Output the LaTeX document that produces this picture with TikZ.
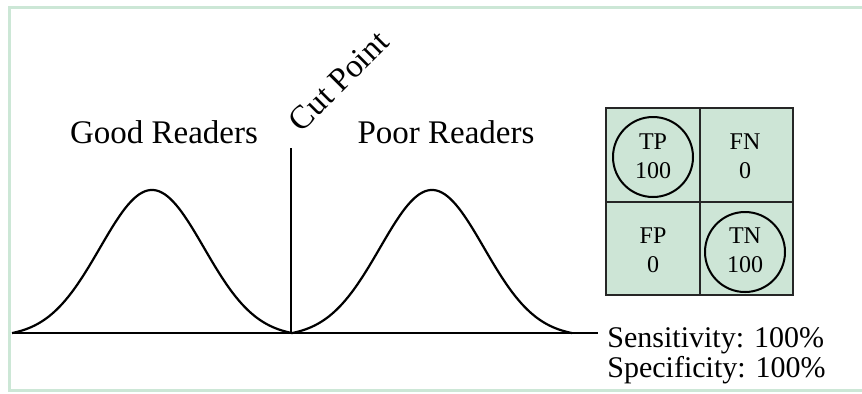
\documentclass[tikz,border=0pt]{standalone}
\usepackage{fontspec}
\setmainfont{Liberation Serif}
\definecolor{framegreen}{RGB}{204,231,214}
\definecolor{cellgreen}{RGB}{205,229,214}
\tikzset{
  bigtext/.style={font=\fontsize{16.5}{18}\selectfont},
  celltext/.style={font=\fontsize{12}{14.5}\selectfont, align=center},
  hitcircle/.style={draw, line width=1pt, circle, minimum size=40pt, inner sep=0pt},
  bell/.style={line width=1.1pt, samples=100},
}
\begin{document}
\begin{tikzpicture}[x=0.5pt, y=-0.5pt]
        \useasboundingbox (0,0) rectangle (862,393);
        % frame, open on the right
        \draw[framegreen, line width=1.5pt] (866,7) -- (9,7) -- (9,390) -- (866,390);
        % axis and the two distributions
        \draw[line width=0.9pt] (12,333) -- (598,333);
        \draw[bell, domain=12:292] plot (\x, {333-147*(exp(-0.5*((\x-152)/52)^2)-0.027)});
        \draw[bell, domain=292:572] plot (\x, {333-147*(exp(-0.5*((\x-432)/52)^2)-0.027)});
        \coordinate (cutbot) at (291,333);
        \coordinate (cuttop) at (291,148);
        \draw[line width=1.1pt] (cutbot) -- (cuttop);
        \node[bigtext, rotate=45, anchor=south west, inner sep=0pt] (cut) at (302,134) {Cut Point};
        \node[bigtext] (good) at (164,132) {Good Readers};
        \node[bigtext] (poor) at (446,132) {Poor Readers};
        % 2x2 table
        \filldraw[fill=cellgreen, draw=black!85, line width=1pt] (606,108) rectangle (793,295);
        \draw[black!85, line width=1pt] (700,108) -- (700,295);
        \draw[black!85, line width=1pt] (606,202) -- (793,202);
        \node[hitcircle] (tpring) at (653,157) {};
        \node[hitcircle] (tnring) at (745,252) {};
        \node[celltext] (tp) at (653,156) {TP\\100};
        \node[celltext] (fn) at (745,156) {FN\\0};
        \node[celltext] (fp) at (653,250) {FP\\0};
        \node[celltext] (tn) at (745,250) {TN\\100};
        \node[font=\fontsize{15}{16}\selectfont, anchor=west, inner sep=0pt] (sens) at (607,341) {Sensitivity: 100\%};
        \node[font=\fontsize{15}{16}\selectfont, anchor=west, inner sep=0pt] (spec) at (607,370) {Specificity: 100\%};
\end{tikzpicture}
\end{document}
